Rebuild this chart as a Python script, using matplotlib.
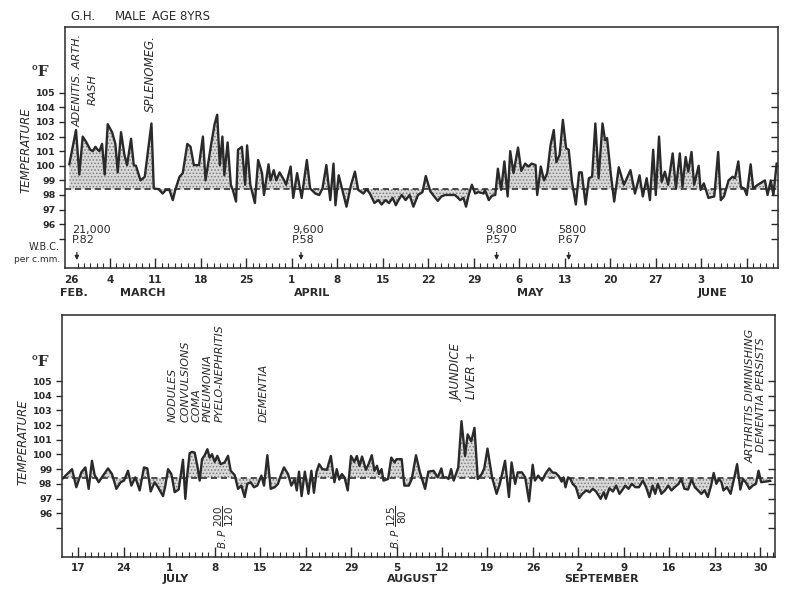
import matplotlib
matplotlib.use("Agg")
import matplotlib.pyplot as plt

NORMAL = 98.4
INK = "#2a2a2a"

# ---- upper strip: day 0 = 26 Feb, readings roughly twice a day ----
top_day = [-0.26, 0.77, 1.28, 1.80, 2.31, 2.98, 3.34, 3.75, 4.11, 4.37, 4.78, 5.19, 5.65, 6.32,
           6.83, 7.19, 7.70, 8.22, 8.63, 9.24, 9.66, 10.0, 10.7, 11.35, 12.38, 12.74, 13.5, 14.1,
           14.6, 15.15, 15.67, 16.08, 16.7, 17.2, 17.9, 18.4, 18.9, 19.7, 20.3, 20.7, 21.6, 22.1,
           22.5, 22.9, 23.3, 23.6, 24.1, 24.6, 24.9, 25.4, 25.7, 26.3, 26.8, 27.1, 27.6, 28.3,
           28.8, 29.4, 29.7, 30.4, 30.7, 31.2, 31.6, 32.1, 32.8, 33.1, 33.8, 34.2, 34.8,
           35.5, 36.3, 36.8, 37.6, 38.2, 38.7, 39.3, 39.9, 40.4, 40.7, 41.2, 41.9, 42.4, 43.1,
           43.7, 44.2, 45.0, 45.5, 46.0, 46.7, 47.3, 47.8, 48.4, 48.95, 49.5, 50.0, 50.4, 50.9,
           51.5, 52.1, 52.7, 53.4, 54.1, 54.6, 55.3, 55.9, 56.45, 57.0, 57.6, 58.35, 59.1, 59.9,
           60.4, 60.8, 61.2, 61.7, 62.2, 62.7, 63.5, 63.7, 64.3, 64.8, 65.3, 65.7, 66.2, 66.7,
           67.2, 67.6, 68.1, 68.8, 69.3, 69.9, 70.4, 70.9, 71.5,
           71.75, 72.3, 72.8, 73.3, 73.8, 74.3, 74.7, 75.2, 75.7, 76.2, 76.6, 77.1, 77.7, 78.2,
           78.6, 79.2, 79.7, 80.2, 80.7, 81.2, 81.8, 82.2, 82.5, 83.1, 83.6, 84.3, 85.1, 86.1,
           86.8, 87.5, 88.0, 88.6, 89.1, 89.6, 90.0, 90.5, 90.9, 91.4, 91.9, 92.6, 93.1, 93.7,
           94.1, 94.6, 95.0, 95.5, 95.9, 96.6, 96.9, 97.4, 98.1, 99.0, 99.6, 100.0, 100.5, 101.2,
           101.8, 102.2, 102.7, 103.1, 103.6, 104.0, 104.6, 105.0, 105.7, 106.8, 107.2, 107.7,
           108.1, 108.6]
top_temp = [100.1, 102.45, 99.4, 102.0, 101.65, 101.1, 101.0, 101.3, 101.1, 101.0, 101.5, 99.4,
            102.85, 102.3, 101.5, 99.55, 102.3, 100.75, 100.05, 101.85, 100.05, 100.0, 99.0,
            99.25, 102.9, 98.45, 98.4, 98.1, 98.35, 98.35, 97.65, 98.4, 99.25, 99.5, 101.5,
            101.3, 100.05, 100.05, 102.0, 99.0, 101.55, 102.85, 103.5, 100.05, 102.0, 99.35,
            101.6, 98.7, 98.35, 97.55, 101.1, 101.3, 98.7, 101.4, 98.7, 97.45, 100.4, 99.5, 98.0,
            100.1, 99.0, 99.7, 99.0, 99.55, 99.0, 98.7, 99.95, 97.8, 99.5,
            97.8, 100.4, 98.45, 98.1, 98.0, 98.45, 100.05, 97.65, 100.15, 97.3, 99.35, 98.1, 97.2,
            98.7, 99.6, 98.35, 98.1, 98.4, 98.1, 97.45, 97.65, 97.35, 97.65, 97.45, 97.8, 97.3,
            97.65, 98.0, 97.65, 98.0, 97.2, 98.0, 98.2, 99.3, 98.25, 97.9, 97.6, 97.9, 98.0, 98.0,
            98.0, 97.65, 97.8, 97.2, 98.0, 98.7, 98.1, 98.2, 98.1, 98.35, 97.65, 97.95, 98.0,
            99.8, 98.35, 100.3, 97.9, 101.0, 99.5, 101.25, 99.65, 100.15, 99.95, 100.15, 100.05,
            98.0, 99.95, 99.0, 99.5, 101.4, 102.45, 100.25, 100.75, 103.15, 101.2, 101.1, 98.9,
            97.35, 99.55, 99.55, 97.35, 99.15, 99.25, 102.9, 99.15, 102.9, 101.75, 101.9, 99.35,
            97.55, 99.9, 98.7, 99.7, 98.1, 99.35, 97.9, 99.15, 97.65, 101.1, 98.0, 102.0, 98.9,
            99.6, 98.7, 100.85, 98.45, 100.85, 98.55, 100.6, 99.6, 100.95, 98.7, 100.0, 98.35,
            98.8, 97.8, 97.9, 100.95, 97.65, 97.9, 99.0, 99.25, 99.15, 100.3, 98.55, 98.45, 98.0,
            100.1, 98.45, 98.7, 99.0, 98.0, 99.0, 98.0, 100.15]
top_tick_day = [6, 13, 20, 27, 34, 41, 48, 55, 62, 69, 76, 83, 90, 97, 104]
top_tick_lab = ["4", "11", "18", "25", "1", "8", "15", "22", "29", "6", "13", "20", "27", "3", "10"]
top_month = ["FEB.", "MARCH", "APRIL", "MAY", "JUNE"]
top_month_day = [0.5, 11.0, 37.1, 70.7, 98.8]

wbc_day = [0.9, 35.4, 65.5, 76.6]
wbc_text = ["21,000\nP.82", "9,600\nP.58", "9,800\nP.57", "5800\nP.67"]
wbc_text_day = [0.15, 34.05, 63.8, 75.0]

# ---- lower strip: day 0 = 17 June ----
bot_day = [-2.31, -0.92, -0.26, 0.51, 1.13, 1.64, 2.15, 2.56, 3.18, 3.85, 4.62, 5.23, 5.9, 6.56,
           7.08, 7.69, 8.21, 8.82, 9.49, 10.15, 10.67, 11.18, 11.79, 12.31, 13.08, 13.44, 13.85,
           14.36, 14.87, 15.49, 16.15, 16.51, 16.82, 17.18, 17.54, 17.95, 18.36, 18.72, 19.08,
           19.49, 19.9, 20.26, 20.62, 21.03, 21.44, 21.95, 22.56, 23.08, 23.49, 24.1, 24.62,
           25.13, 25.64, 26.05, 26.56, 27.08, 27.59, 28.21, 28.62, 29.13, 29.64, 30.26, 30.77,
           31.18, 31.69, 32.31, 32.82, 33.33,
           33.66, 34.0, 34.4, 34.9, 35.45, 35.9, 36.3, 36.7, 37.1, 37.6, 38.3, 38.9, 39.45, 39.8,
           40.2, 40.6, 41.0, 41.5, 42.0, 42.5, 42.9, 43.3, 43.7, 44.3, 44.7, 45.2, 45.6, 46.0,
           46.3, 46.7, 47.0, 47.7, 48.2, 48.7, 49.0, 49.8, 50.2, 50.9, 51.35, 52.0, 52.6, 53.4,
           53.9, 54.7, 55.35, 55.9, 56.2, 56.7, 57.0, 57.4, 57.8, 58.5, 59.0, 59.55, 59.95, 60.5,
           61.0, 61.5, 62.1, 62.5, 63.0, 63.7, 64.4, 64.9, 65.7, 66.3, 66.7, 67.25, 67.65, 68.3,
           68.8, 69.4, 69.95,
           70.3, 70.8, 71.4, 71.9, 72.5, 73.0, 73.5, 74.0, 74.4, 74.7, 75.0, 75.4, 75.75, 76.1,
           76.6, 77.1, 77.6, 78.2, 78.7, 79.2, 79.7, 80.4, 80.9, 81.2, 81.75, 82.3, 82.8, 83.3,
           83.7, 84.2, 84.7, 85.2, 85.75, 86.3, 86.9, 87.4, 87.9, 88.4, 88.8, 89.2, 89.75, 90.3,
           90.8, 91.3, 91.8, 92.4, 92.8, 93.3, 93.85, 94.4, 94.9, 95.4, 95.9, 96.4, 96.9, 97.4,
           97.8, 98.2, 98.6, 99.0, 99.3, 99.85, 100.4, 100.9, 101.4, 101.9, 102.3, 102.8, 103.3,
           103.8, 104.3, 104.7, 105.1, 106.5]
bot_temp = [98.38, 99.0, 97.77, 98.78, 99.12, 97.66, 99.57, 98.6, 98.11, 98.56, 99.05, 98.67,
            97.66, 98.11, 98.22, 98.89, 97.88, 98.44, 97.55, 99.12, 99.05, 97.48, 98.11, 97.77,
            97.16, 97.88, 99.0, 98.67, 97.43, 97.61, 99.64, 96.98, 98.67, 100.09, 100.18, 100.13,
            99.23, 98.22, 99.68, 99.95, 100.36, 99.79, 100.02, 99.5, 99.91, 99.34, 99.46, 99.91,
            98.89, 98.6, 97.66, 97.88, 97.1, 98.0, 98.11, 97.77, 97.88, 98.56, 97.88, 99.95,
            97.66, 97.77, 98.0, 98.56, 99.12, 98.67, 97.88, 98.29,
            97.55, 98.83, 97.16, 98.83, 97.32, 98.89, 97.39, 98.83, 99.34, 99.0, 98.96, 99.9,
            98.11, 99.0, 98.29, 98.67, 98.44, 97.55, 99.9, 99.5, 99.9, 99.23, 99.86, 98.96, 99.34,
            99.95, 98.89, 99.23, 98.67, 99.0, 98.22, 98.33, 99.79, 99.46, 99.68, 99.68, 97.88,
            97.88, 98.33, 99.95, 98.78, 97.66, 98.83, 98.89, 98.44, 99.05, 98.44, 98.44, 98.33,
            99.0, 98.22, 99.12, 102.27, 99.9, 101.37, 100.9, 101.82, 98.33, 98.67, 99.05, 100.4,
            98.44, 97.32, 98.0, 99.57, 97.1, 99.46, 98.0, 98.78, 98.78, 98.44, 96.8, 99.3,
            98.22, 98.56, 98.22, 98.67, 99.05, 98.78, 98.74, 98.51, 98.15, 98.44, 97.77, 98.44,
            98.33, 98.0, 97.77, 97.03, 97.32, 97.55, 97.43, 97.66, 97.48, 96.98, 97.43, 96.98,
            97.7, 97.48, 97.88, 97.32, 97.55, 97.88, 97.66, 98.0, 97.77, 97.77, 98.22, 97.77,
            97.1, 97.88, 97.32, 98.0, 97.32, 97.55, 97.88, 97.55, 97.77, 98.0, 98.33, 97.66,
            97.61, 98.29, 97.77, 97.55, 97.32, 97.55, 97.1, 97.88, 98.74, 98.0, 98.33, 98.11,
            97.55, 97.77, 97.32, 98.29, 99.34, 97.61, 98.33, 98.06, 97.66, 97.88, 98.0, 98.89,
            98.11, 98.2]
bot_tick_day = [0, 7, 14, 21, 28, 35, 42, 49, 56, 63, 70, 77, 84, 91, 98, 105]
bot_tick_lab = ["17", "24", "1", "8", "15", "22", "29", "5", "12", "19", "26", "2", "9", "16",
                "23", "30"]
bot_month = ["JULY", "AUGUST", "SEPTEMBER"]
bot_month_day = [15.1, 51.4, 80.6]

plt.rcParams["font.family"] = ["DejaVu Sans"]
plt.rcParams["hatch.linewidth"] = 0.7
fig = plt.figure(figsize=(7.85, 5.89), dpi=100)


def strip(rect, day, temp, xlim, ticks, labels, month, month_day, num_off, mon_off):
    ax = fig.add_axes(rect)
    ax.fill_between(day, temp, NORMAL, facecolor="#d9d9d9", edgecolor="#7c7c7c",
                    hatch=".....", linewidth=0, zorder=1)
    ax.axhline(NORMAL, color="#222", lw=1.1, ls=(0, (4, 2.5)), zorder=2)
    ax.plot(day, temp, color=INK, lw=1.7, zorder=3)
    ax.set_xlim(*xlim)
    ax.set_ylim(93.0, 109.5)
    for s in ax.spines.values():
        s.set_linewidth(1.1)
        s.set_color(INK)
    ax.set_yticks(range(95, 106))
    ax.set_yticklabels([""] + [str(v) for v in range(96, 106)], fontsize=6.8, color=INK,
                       weight="bold")
    ax.tick_params(axis="y", direction="out", length=4, width=1, pad=3, colors=INK)
    sec = ax.secondary_yaxis("right")
    sec.set_yticks(range(95, 106))
    sec.set_yticklabels([])
    sec.tick_params(direction="in", length=5, width=1, colors=INK)
    sec.spines["right"].set_visible(False)
    ax.set_xticks(ticks)
    ax.set_xticklabels([])
    ax.set_xticks(range(int(xlim[0]) + 1, int(xlim[1]) + 1), minor=True)
    ax.tick_params(axis="x", which="major", direction="in", length=7, width=1, colors=INK)
    ax.tick_params(axis="x", which="minor", direction="in", length=3.5, width=0.8, colors=INK)
    for d, lab in zip(ticks, labels):
        ax.annotate(lab, (d, 0), xycoords=("data", "axes fraction"), xytext=(0, num_off),
                    textcoords="offset points", ha="center", va="center", fontsize=7.5,
                    color=INK, weight="bold")
    for d, lab in zip(month_day, month):
        ax.annotate(lab, (d, 0), xycoords=("data", "axes fraction"), xytext=(0, mon_off),
                    textcoords="offset points", ha="center", va="center", fontsize=8,
                    color=INK, weight="bold")
    return ax


ax1 = strip([0.083, 0.545, 0.908, 0.409], top_day, top_temp, (-0.9, 108.8),
            top_tick_day, top_tick_lab, top_month, top_month_day, -8.6, -18)
ax1.annotate("26", (0, 0), xycoords=("data", "axes fraction"), xytext=(0, -8.6),
             textcoords="offset points", ha="center", va="center", fontsize=7.5, color=INK,
             weight="bold")

ax2 = strip([0.079, 0.054, 0.908, 0.411], bot_day, bot_temp, (-2.46, 107.2),
            bot_tick_day, bot_tick_lab, bot_month, bot_month_day, -7.9, -15.8)

# W.B.C. counts
for d, tx, txt in zip(wbc_day, wbc_text_day, wbc_text):
    ax1.text(tx, 95.25, txt, ha="left", va="center", fontsize=8, color=INK, linespacing=1.0)
    ax1.annotate("", xy=(d, 93.35), xytext=(d, 94.25),
                 arrowprops=dict(arrowstyle="-|>", lw=0.9, color=INK, mutation_scale=6))
fig.text(0.0764, 1 - 247 / 589, "W.B.C.", ha="right", va="center", fontsize=7, color=INK)
fig.text(0.0764, 1 - 260 / 589, "per c.mm.", ha="right", va="center", fontsize=6.5, color=INK)

# headings and axis words
fig.text(70 / 785, 1 - 16 / 589, "G.H.", ha="left", va="center", fontsize=8.5, color=INK)
fig.text(115 / 785, 1 - 16 / 589, "MALE", ha="left", va="center", fontsize=8.5, color=INK)
fig.text(152 / 785, 1 - 16 / 589, "AGE 8YRS", ha="left", va="center", fontsize=8.5, color=INK)
for yy, ty, tx in [(72, 150, 26), (362, 442, 23)]:
    fig.text(31 / 785, 1 - yy / 589, "°F", ha="left", va="center", fontsize=11,
             family="DejaVu Serif", weight="bold", color=INK)
    fig.text(tx / 785, 1 - ty / 589, "TEMPERATURE", rotation=90, ha="center", va="center",
             fontsize=8.5, style="italic", color=INK)

# clinical notes, upper strip
note = dict(rotation=90, ha="center", style="italic", color=INK)
ax1.text(1.08, 105.84, "ADENITIS. ARTH.", va="center", fontsize=8, **note)
ax1.text(3.39, 105.2, "RASH", va="center", fontsize=8, **note)
ax1.text(12.3, 106.3, "SPLENOMEG.", va="center", fontsize=8.5, **note)

# clinical notes, lower strip
for d, txt in [(14.6, "NODULES"), (16.5, "CONVULSIONS"), (18.3, "COMA"),
               (20.0, "PNEUMONIA"), (21.8, "PYELO-NEPHRITIS"), (28.6, "DEMENTIA")]:
    ax2.text(d, 102.2, txt, va="bottom", fontsize=8, **note)
ax2.text(58.3, 105.6, "JAUNDICE", va="center", fontsize=8.5, **note)
ax2.text(60.6, 105.4, "LIVER +", va="center", fontsize=8.5, **note)
ax2.text(103.4, 104.0, "ARTHRITIS DIMINISHING", va="center", fontsize=8, **note)
ax2.text(105.1, 104.1, "DEMENTIA PERSISTS", va="center", fontsize=8, **note)
ax2.text(22.5, 95.05, r"$\mathit{B.P}\ \dfrac{\mathit{200}}{\mathit{120}}$", va="center",
         fontsize=7.5, **note)
ax2.text(49.1, 95.05, r"$\mathit{B.P}\ \dfrac{\mathit{125}}{\mathit{80}}$", va="center",
         fontsize=7.5, **note)

fig.savefig("out.png", dpi=100)
